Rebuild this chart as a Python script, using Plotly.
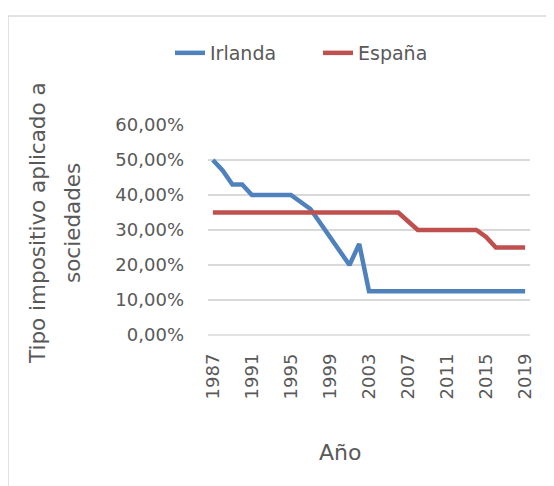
import plotly.graph_objects as go

years = list(range(1987, 2020))
irlanda = [0.50, 0.47, 0.43, 0.43, 0.40, 0.40, 0.40, 0.40, 0.40, 0.38, 0.36,
           0.32, 0.28, 0.24, 0.20, 0.26] + [0.125] * 17
espana = [0.35] * 20 + [0.325] + [0.30] * 7 + [0.28] + [0.25] * 4
tick_years = list(range(1987, 2020, 4))

FONT = "DejaVu Sans"
GREY = "#595959"

# page body adds an 8px offset; work in reference-pixel coordinates
OFF = 8
W, H = 554 - OFF, 486 - OFF
PL, PR, PT, PB = 208, 530, 125, 335  # plot area in reference pixels
L, T = PL - OFF, PT - OFF
R, B = W - (PR - OFF), H - (PB - OFF)
pw, ph = PR - PL, PB - PT

def px_x(x):
    return (x - PL) / pw

def px_y(y):
    return (PB - y) / ph

fig = go.Figure()
fig.add_trace(go.Scatter(x=years, y=irlanda, mode="lines", name="Irlanda",
                         line=dict(color="#4F81BD", width=4.5)))
fig.add_trace(go.Scatter(x=years, y=espana, mode="lines", name="España",
                         line=dict(color="#C0504D", width=4.5)))

fig.update_layout(
    width=W, height=H,
    margin=dict(l=L, r=R, t=T, b=B, autoexpand=False),
    paper_bgcolor="white", plot_bgcolor="white",
    separators=",.",
    font=dict(family=FONT, color=GREY, size=18),
    showlegend=True,
    legend=dict(orientation="h", x=px_x(170), xanchor="left",
                y=px_y(53), yanchor="middle",
                font=dict(family=FONT, size=19, color=GREY),
                entrywidth=103, entrywidthmode="pixels",
                bgcolor="rgba(0,0,0,0)"),
    xaxis=dict(range=[1986.5, 2019.5], tickmode="array", tickvals=tick_years,
               ticktext=[str(y) for y in tick_years], tickangle=-90,
               showgrid=False, zeroline=False, showline=False, ticks="",
               ticklabelstandoff=14,
               tickfont=dict(family=FONT, size=18, color=GREY)),
    yaxis=dict(range=[0, 0.6], dtick=0.1, tickformat=".2%",
               showgrid=True, gridcolor="#D9D9D9", gridwidth=1.5,
               zeroline=False, showline=False, ticks="",
               ticklabelstandoff=23,
               tickfont=dict(family=FONT, size=18, color=GREY)),
    shapes=[dict(type="rect", xref="paper", yref="paper",
                 x0=px_x(8), x1=px_x(600), y0=px_y(600), y1=px_y(16),
                 line=dict(color="#D9D9D9", width=1.5), layer="below"),
            dict(type="line", xref="paper", yref="paper",
                 x0=0, x1=1, y0=0, y1=0,
                 line=dict(color="#D9D9D9", width=1.5), layer="below")],
    annotations=[
        dict(text="Año", xref="paper", yref="paper", x=px_x(340), y=px_y(452),
             showarrow=False, font=dict(family=FONT, size=22, color=GREY),
             xanchor="center", yanchor="middle"),
        dict(text="Tipo impositivo aplicado a", xref="paper", yref="paper",
             x=px_x(37), y=px_y(223), textangle=-90, showarrow=False,
             font=dict(family=FONT, size=21.5, color=GREY),
             xanchor="center", yanchor="middle"),
        dict(text="sociedades", xref="paper", yref="paper",
             x=px_x(72), y=px_y(223), textangle=-90, showarrow=False,
             font=dict(family=FONT, size=21.5, color=GREY),
             xanchor="center", yanchor="middle"),
    ],
)

fig.write_html("out.html")
